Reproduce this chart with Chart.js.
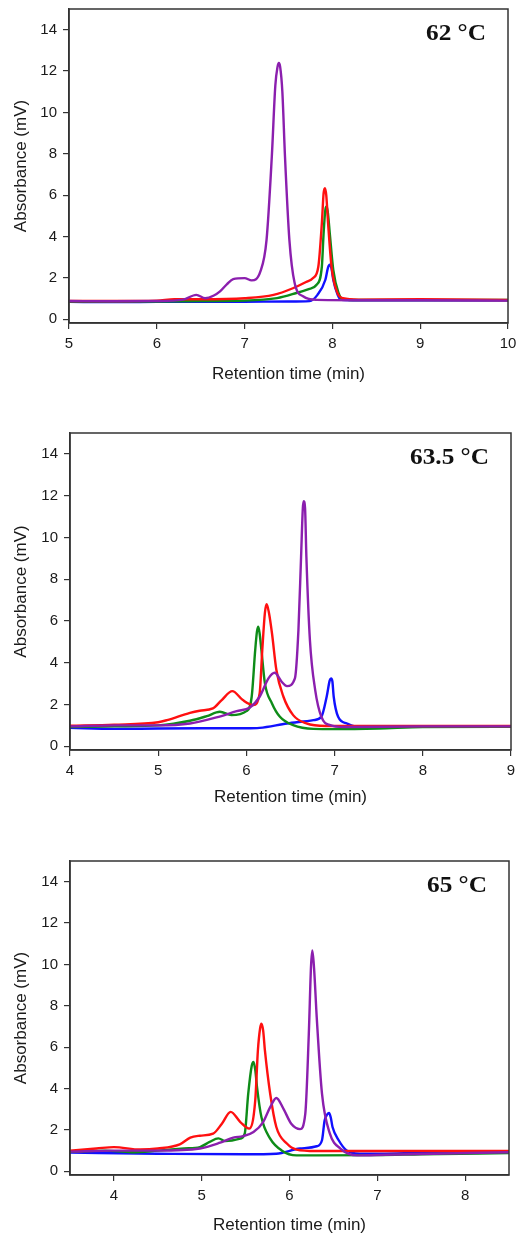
<!DOCTYPE html>
<html>
<head>
<meta charset="utf-8">
<title>Retention time chromatograms</title>
<script src="https://cdn.jsdelivr.net/npm/chart.js@4.4.1/dist/chart.umd.min.js"></script>
<style>
    body { margin: 0; background: #fff; }
    canvas { position: absolute; left: 0; }
</style>
</head>
<body>
<canvas id="chart62" width="517" height="400" style="top:0px"></canvas>
<canvas id="chart635" width="517" height="420" style="top:400px"></canvas>
<canvas id="chart65" width="517" height="404" style="top:830px"></canvas>
<script>
// tick labels
const yTicks = [0, 2, 4, 6, 8, 10, 12, 14];
const xTicks62 = [5, 6, 7, 8, 9, 10];
const xTicks635 = [4, 5, 6, 7, 8, 9];
const xTicks65 = [4, 5, 6, 7, 8];

// 62 °C  -  [retention time (min), absorbance (mV)]
const purple62 = [[5, 0.88], [5.5, 0.87], [6.0, 0.88], [6.3, 0.95], [6.45, 1.18], [6.55, 1.02], [6.65, 1.15], [6.72, 1.35], [6.8, 1.7], [6.87, 1.94], [7.0, 1.99], [7.08, 1.88], [7.18, 2.31], [7.25, 3.84], [7.31, 7.87], [7.35, 11.3], [7.375, 12.2], [7.39, 12.39], [7.405, 12.2], [7.43, 11.0], [7.46, 7.87], [7.51, 3.84], [7.57, 1.75], [7.67, 1.1], [7.82, 0.94], [8.5, 0.92], [9, 0.92], [10, 0.9]];
const red62 = [[5, 0.88], [5.5, 0.88], [6.0, 0.9], [6.2, 0.97], [6.5, 0.97], [7.0, 1.02], [7.33, 1.18], [7.55, 1.5], [7.7, 1.8], [7.78, 1.99], [7.84, 2.55], [7.88, 4.65], [7.9, 6.1], [7.915, 6.34], [7.93, 6.0], [7.95, 4.7], [7.99, 2.55], [8.05, 1.35], [8.12, 1.02], [8.3, 0.95], [9, 0.97], [10, 0.93]];
const green62 = [[5, 0.86], [6, 0.86], [6.5, 0.88], [7.0, 0.9], [7.37, 1.02], [7.59, 1.27], [7.73, 1.46], [7.82, 1.67], [7.88, 2.55], [7.9, 4.17], [7.92, 5.3], [7.935, 5.45], [7.95, 5.1], [7.97, 4.17], [8.01, 2.39], [8.07, 1.27], [8.12, 0.97], [8.3, 0.93], [10, 0.93]];
const blue62 = [[5, 0.84], [5.5, 0.83], [6, 0.84], [7, 0.85], [7.5, 0.86], [7.74, 0.88], [7.83, 1.18], [7.92, 1.91], [7.95, 2.5], [7.97, 2.64], [7.99, 2.45], [8.01, 1.91], [8.06, 1.18], [8.1, 0.94], [8.3, 0.92], [10, 0.92]];

// 63.5 °C
const purple635 = [[4, 0.95], [4.5, 1.0], [5.0, 1.0], [5.36, 1.09], [5.66, 1.38], [5.89, 1.68], [6.04, 1.86], [6.15, 2.37], [6.25, 3.25], [6.32, 3.52], [6.4, 3.09], [6.46, 2.88], [6.55, 3.25], [6.59, 5.57], [6.62, 9.09], [6.64, 11.4], [6.65, 11.73], [6.665, 11.4], [6.68, 9.09], [6.72, 5.09], [6.78, 2.69], [6.85, 1.41], [6.95, 1.01], [7.1, 0.92], [8, 0.95], [9, 0.95]];
const red635 = [[4, 0.98], [4.5, 1.03], [5.0, 1.15], [5.1, 1.25], [5.36, 1.6], [5.47, 1.7], [5.62, 1.81], [5.72, 2.21], [5.84, 2.64], [5.96, 2.21], [6.08, 1.97], [6.15, 2.53], [6.18, 4.6], [6.21, 6.4], [6.23, 6.8], [6.255, 6.4], [6.29, 5.41], [6.34, 3.65], [6.42, 2.37], [6.53, 1.49], [6.68, 1.09], [6.9, 0.97], [9, 0.97]];
const green635 = [[4, 0.92], [4.5, 0.95], [5.0, 1.0], [5.36, 1.22], [5.55, 1.44], [5.7, 1.65], [5.83, 1.49], [6.0, 1.68], [6.06, 2.37], [6.1, 4.61], [6.12, 5.5], [6.135, 5.73], [6.15, 5.4], [6.17, 4.61], [6.21, 3.01], [6.29, 2.05], [6.38, 1.41], [6.53, 1.01], [6.76, 0.83], [7.0, 0.82], [7.5, 0.85], [8, 0.92], [9, 0.93]];
const blue635 = [[4, 0.88], [4.5, 0.83], [5, 0.85], [5.5, 0.86], [6.0, 0.86], [6.15, 0.88], [6.46, 1.09], [6.76, 1.25], [6.85, 1.41], [6.91, 2.37], [6.945, 3.15], [6.96, 3.25], [6.975, 3.1], [6.99, 2.37], [7.04, 1.41], [7.14, 1.09], [7.29, 0.9], [8, 0.95], [9, 0.95]];

// 65 °C
const purple65 = [[3.5, 0.95], [4.0, 1.0], [4.5, 1.0], [4.98, 1.1], [5.21, 1.38], [5.36, 1.63], [5.47, 1.7], [5.59, 1.9], [5.7, 2.38], [5.78, 3.1], [5.85, 3.54], [5.93, 3.03], [6.02, 2.3], [6.12, 2.04], [6.18, 2.79], [6.22, 6.65], [6.245, 9.9], [6.26, 10.67], [6.28, 9.8], [6.31, 7.45], [6.37, 3.75], [6.46, 1.82], [6.58, 1.1], [6.77, 0.77], [7.1, 0.8], [8.5, 0.92]];
const red65 = [[3.5, 1.0], [3.8, 1.1], [4.0, 1.17], [4.3, 1.05], [4.5, 1.1], [4.75, 1.3], [4.87, 1.63], [4.98, 1.72], [5.13, 1.82], [5.23, 2.3], [5.33, 2.87], [5.44, 2.38], [5.54, 2.06], [5.61, 3.43], [5.64, 5.84], [5.665, 6.9], [5.68, 7.13], [5.7, 6.8], [5.72, 5.84], [5.78, 3.75], [5.85, 2.14], [5.97, 1.34], [6.08, 1.05], [6.3, 0.98], [8.5, 0.98]];
const green65 = [[3.5, 0.95], [3.9, 1.0], [4.2, 0.92], [4.5, 1.0], [4.8, 1.1], [4.98, 1.17], [5.09, 1.42], [5.19, 1.59], [5.27, 1.46], [5.44, 1.58], [5.49, 1.82], [5.53, 3.75], [5.57, 5.1], [5.59, 5.28], [5.61, 4.9], [5.63, 4.07], [5.68, 2.62], [5.78, 1.58], [5.91, 1.01], [6.08, 0.77], [7.0, 0.78], [7.5, 0.82], [8.5, 0.88]];
const blue65 = [[3.5, 0.9], [4.5, 0.85], [5.5, 0.82], [5.85, 0.85], [6.12, 1.1], [6.31, 1.21], [6.37, 1.5], [6.4, 2.46], [6.43, 2.75], [6.45, 2.82], [6.47, 2.6], [6.49, 2.14], [6.56, 1.5], [6.65, 1.01], [6.8, 0.85], [7.5, 0.88], [8.5, 0.9]];

addEventListener("load", initCharts, false);

function initCharts() {
    drawChart("chart62", "62 °C", [5, 10], xTicks62, [purple62, red62, green62, blue62],
        { left: 69, right: 9, top: 9, bottom: 323, title: 374, height: 400 });
    drawChart("chart635", "63.5 °C", [4, 9], xTicks635, [purple635, red635, green635, blue635],
        { left: 70, right: 6, top: 33, bottom: 350, title: 397, height: 420 });
    drawChart("chart65", "65 °C", [3.5, 8.5], xTicks65, [purple65, red65, green65, blue65],
        { left: 70, right: 8, top: 31, bottom: 345, title: 395, height: 404 });
}

const colors = ["#8b1fae", "#ff1010", "#0e8c18", "#1010ff"];

// box around the plot + temperature label
const frameAndLabel = {
    id: "frameAndLabel",
    afterDraw(chart) {
        const a = chart.chartArea;
        const ctx = chart.ctx;
        ctx.save();
        ctx.strokeStyle = "#333";
        ctx.lineWidth = 1.5;
        ctx.strokeRect(a.left, a.top, a.right - a.left, a.bottom - a.top);
        ctx.fillStyle = "#111";
        ctx.font = "bold 23px 'Liberation Serif'";
        ctx.textAlign = "right";
        ctx.textBaseline = "middle";
        ctx.translate(a.right - 22, a.top + 25);
        ctx.scale(1.1, 1);
        ctx.fillText(chart.options.plugins.frameAndLabel.text, 0, 0);
        ctx.restore();
    }
};

function drawChart(id, label, xRange, xTicks, series, box) {
    let ctx = document.getElementById(id).getContext("2d");
    let titleHalf = 17 * 1.2 / 2;
    let axisHeight = box.title + titleHalf - box.bottom;

    new Chart(ctx, {
        type: "scatter",
        data: {
            datasets: series.map((s, i) => ({
                data: s.map(p => ({ x: p[0], y: p[1] })),
                showLine: true,
                borderColor: colors[i],
                borderWidth: 2.4,
                pointRadius: 0,
                cubicInterpolationMode: "monotone",
                order: i
            }))
        },
        options: {
            responsive: false,
            animation: false,
            events: [],
            layout: {
                padding: { left: 0, right: box.right, top: box.top, bottom: box.height - box.title - titleHalf }
            },
            plugins: {
                legend: { display: false },
                tooltip: { enabled: false },
                frameAndLabel: { text: label }
            },
            scales: {
                x: {
                    type: "linear",
                    min: xRange[0],
                    max: xRange[1],
                    afterBuildTicks: scale => { scale.ticks = xTicks.map(v => ({ value: v })); },
                    afterFit: scale => {
                        scale.height = axisHeight;
                        scale.paddingLeft = 0;
                        scale.paddingRight = 0;
                    },
                    grid: { drawOnChartArea: false, drawTicks: true, tickLength: 6, color: "#333", lineWidth: 1.2 },
                    border: { display: true, color: "#333", width: 1.5 },
                    ticks: {
                        padding: 6,
                        color: "#1a1a1a",
                        maxRotation: 0,
                        font: { family: "'Liberation Sans', Arial", size: 15 }
                    },
                    title: {
                        display: true,
                        text: "Retention time (min)",
                        color: "#1a1a1a",
                        padding: 0,
                        font: { family: "'Liberation Sans', Arial", size: 17 }
                    }
                },
                y: {
                    min: -0.18,
                    max: 15,
                    afterBuildTicks: scale => { scale.ticks = yTicks.map(v => ({ value: v })); },
                    afterFit: scale => {
                        scale.width = box.left;
                        scale.paddingTop = 0;
                        scale.paddingBottom = 0;
                    },
                    grid: { drawOnChartArea: false, drawTicks: true, tickLength: 6, color: "#333", lineWidth: 1.2 },
                    border: { display: true, color: "#333", width: 1.5 },
                    ticks: {
                        padding: 6,
                        color: "#1a1a1a",
                        font: { family: "'Liberation Sans', Arial", size: 15 }
                    },
                    title: {
                        display: true,
                        text: "Absorbance (mV)",
                        color: "#1a1a1a",
                        padding: { top: 11, bottom: 11 },
                        font: { family: "'Liberation Sans', Arial", size: 17 }
                    }
                }
            }
        },
        plugins: [frameAndLabel]
    });
}
</script>
</body>
</html>
